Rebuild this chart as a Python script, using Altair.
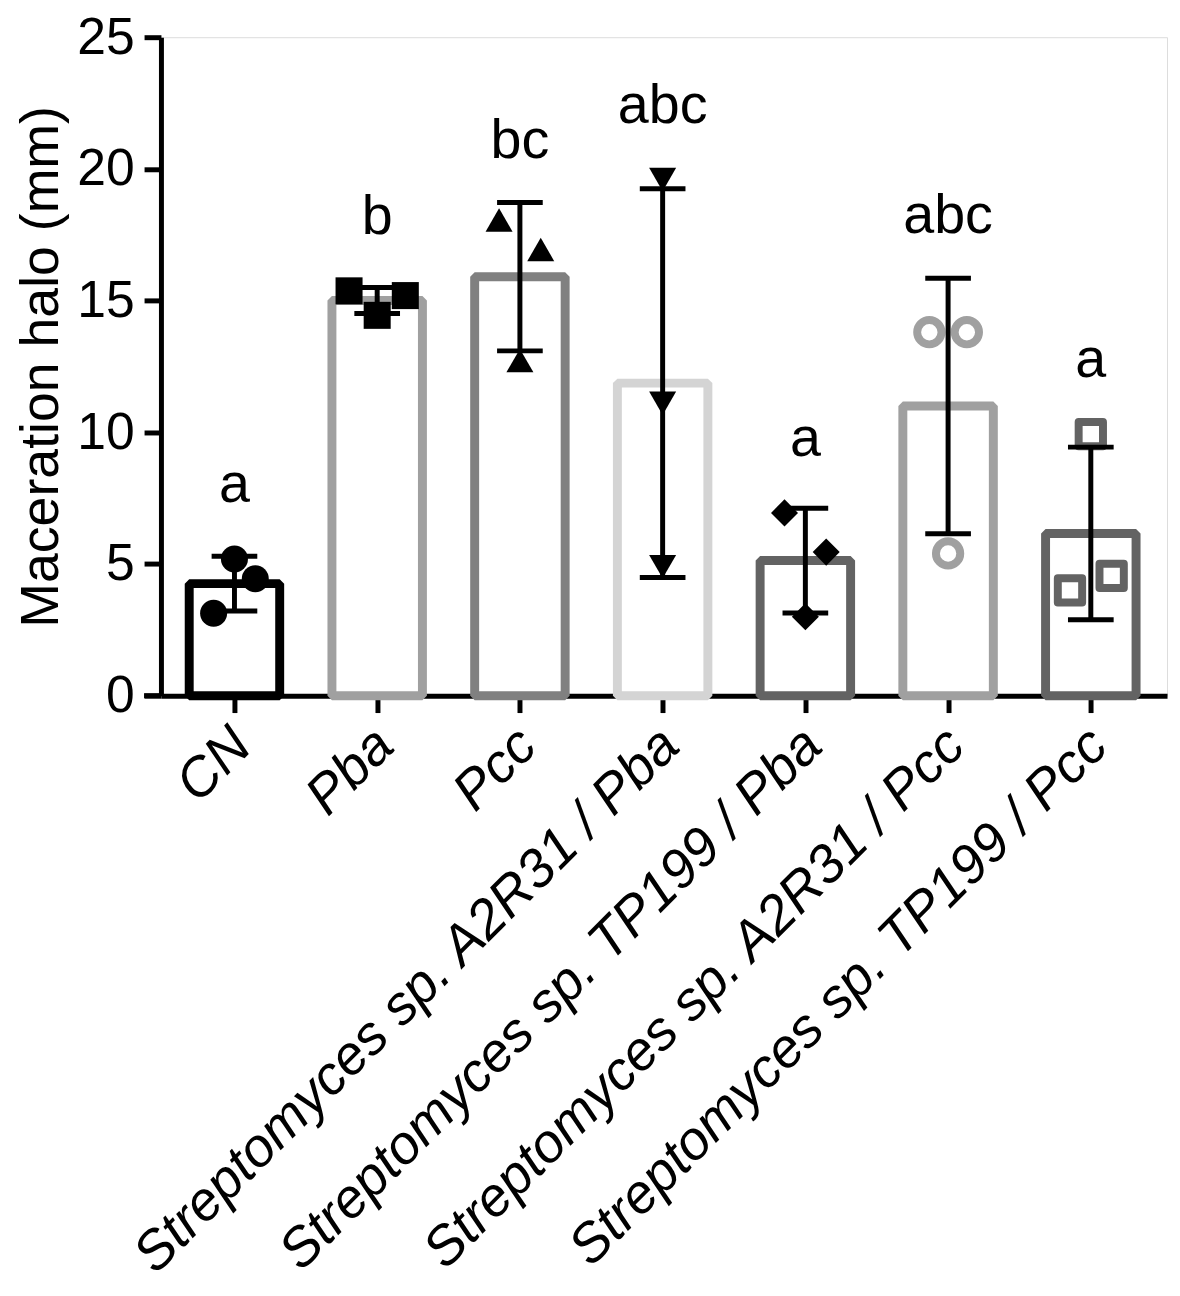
import json
import altair as alt
import pandas as pd

groups = [
    "CN",
    "Pba",
    "Pcc",
    "Streptomyces sp. A2R31 / Pba",
    "Streptomyces sp. TP199 / Pba",
    "Streptomyces sp. A2R31 / Pcc",
    "Streptomyces sp. TP199 / Pcc",
]
letters = ["a", "b", "bc", "abc", "a", "abc", "a"]
rep1 = [5.19, 15.37, 18.06, 19.6, 6.94, 13.8, 9.93]
rep2 = [4.44, 15.19, 16.94, 11.1, 5.45, 13.8, 4.55]
rep3 = [3.13, 14.44, 12.72, 4.9, 3.0, 5.4, 4.0]
# horizontal arrangement of the replicate points (left -1, centre 0, right 1)
spread1 = [0, -1.35, -1, 0, -1, -0.9, 0]
spread2 = [1, 1.35, 1, 0, 1, 0.9, 1]
spread3 = [-1, 0, 0, 0, 0, 0, -1]
bar_colors = ["#000000", "#a0a0a0", "#808080", "#d4d4d4", "#636363", "#a0a0a0", "#636363"]
shapes = ["circle", "square", "triangle-up", "triangle-down", "diamond", "circle", "square"]
open_groups = groups[5:]
filled_groups = groups[:5]

rows = []
for i, g in enumerate(groups):
    for v, s in zip((rep1[i], rep2[i], rep3[i]), (spread1[i], spread2[i], spread3[i])):
        rows.append({"group": g, "idx": i, "value": v, "spread": s, "letter": letters[i]})
df = pd.DataFrame(rows)

FONT = "Liberation Sans"
BAR_HALF = 0.317     # half bar width in category units
CAP_HALF = 0.16      # half error-bar cap width
JITTER = 0.146       # replicate spread in category units

yscale = alt.Scale(domain=[0, 25], nice=False, zero=True)
xscale = alt.Scale(domain=[-0.515, 6.534], nice=False, zero=False)
color_scale = alt.Scale(domain=groups, range=bar_colors)

label_expr = json.dumps(groups) + "[round(datum.value)]"
x_axis = alt.Axis(
    title=None, values=list(range(len(groups))), labelExpr=label_expr,
    labelAngle=-45, labelAlign="right", labelBaseline="middle",
    labelFontStyle="italic", labelFontSize=55, labelLimit=3000, labelPadding=24,
    labelOffset=7,
    tickSize=17, tickWidth=5, domainWidth=5, labelColor="black", tickColor="black",
    domainColor="black", labelFont=FONT, grid=False, labelOverlap=False,
)
y_axis = alt.Axis(
    title="Maceration halo (mm)", values=[0, 5, 10, 15, 20, 25], labelFontSize=52,
    labelFont=FONT, labelColor="black", labelPadding=10, tickSize=17, tickWidth=5,
    domainWidth=5, tickColor="black", domainColor="black", titleFontSize=54,
    titleFont=FONT, titleFontWeight="normal", titleColor="black", titlePadding=8,
    grid=False,
)


def X(field):
    return alt.X(field, scale=xscale, axis=x_axis)


def Y(field):
    return alt.Y(field, scale=yscale, axis=y_axis)


base = alt.Chart(df)
agg = base.transform_aggregate(
    mean_v="mean(value)", sd_v="stdev(value)", max_v="max(value)",
    groupby=["group", "idx", "letter"],
).transform_calculate(
    hi="datum.mean_v + datum.sd_v",
    lo="datum.mean_v - datum.sd_v",
    top="max(datum.mean_v + datum.sd_v, datum.max_v + 0.45) + 1.7",
    bx1=f"datum.idx - {BAR_HALF}",
    bx2=f"datum.idx + {BAR_HALF}",
    cx1=f"datum.idx - {CAP_HALF}",
    cx2=f"datum.idx + {CAP_HALF}",
)

bars = agg.mark_rect(fill="white", strokeWidth=9, strokeJoin="bevel").encode(
    x=X("bx1:Q"), x2="bx2:Q",
    y=Y("mean_v:Q"), y2=alt.datum(0),
    stroke=alt.Stroke("group:N", scale=color_scale, legend=None),
)

pts = base.transform_calculate(px=f"datum.idx + datum.spread * {JITTER}")
shape_enc = alt.Shape("group:N", scale=alt.Scale(domain=groups, range=shapes), legend=None)

pts_filled = pts.transform_filter(
    alt.FieldOneOfPredicate(field="group", oneOf=filled_groups)
).mark_point(filled=True, size=740, opacity=1, color="black").encode(
    x=X("px:Q"), y=Y("value:Q"), shape=shape_enc,
)

pts_open = pts.transform_filter(
    alt.FieldOneOfPredicate(field="group", oneOf=open_groups)
).mark_point(filled=False, fill="white", fillOpacity=1, size=600, strokeWidth=8,
             opacity=1, strokeJoin="round").encode(
    x=X("px:Q"), y=Y("value:Q"), shape=shape_enc,
    stroke=alt.Stroke("group:N", scale=color_scale, legend=None),
)

err_rule = agg.mark_rule(strokeWidth=5, color="black").encode(
    x=X("idx:Q"), y=Y("lo:Q"), y2="hi:Q",
)
cap_hi = agg.mark_rule(strokeWidth=5, color="black").encode(
    x=X("cx1:Q"), x2="cx2:Q", y=Y("hi:Q"),
)
cap_lo = agg.mark_rule(strokeWidth=5, color="black").encode(
    x=X("cx1:Q"), x2="cx2:Q", y=Y("lo:Q"),
)
labels = agg.mark_text(fontSize=56, font=FONT, baseline="alphabetic", color="black").encode(
    x=X("idx:Q"), y=Y("top:Q"), text="letter:N",
)
axis_ext = alt.Chart(pd.DataFrame({"v": [0]})).mark_rule(strokeWidth=5, color="black").encode(
    x=alt.value(-17), x2=alt.value(0), y=Y("v:Q"),
)

chart = alt.layer(
    bars, pts_filled, pts_open, err_rule, cap_hi, cap_lo, labels, axis_ext
).properties(
    width=1013, height=663,
    padding={"left": 154, "top": 25, "right": 5, "bottom": 592},
    autosize=alt.AutoSizeParams(type="none"),
).configure_view(stroke=None).configure(background="white")

chart.save("out.html", embed_options={"renderer": "svg", "actions": False})
